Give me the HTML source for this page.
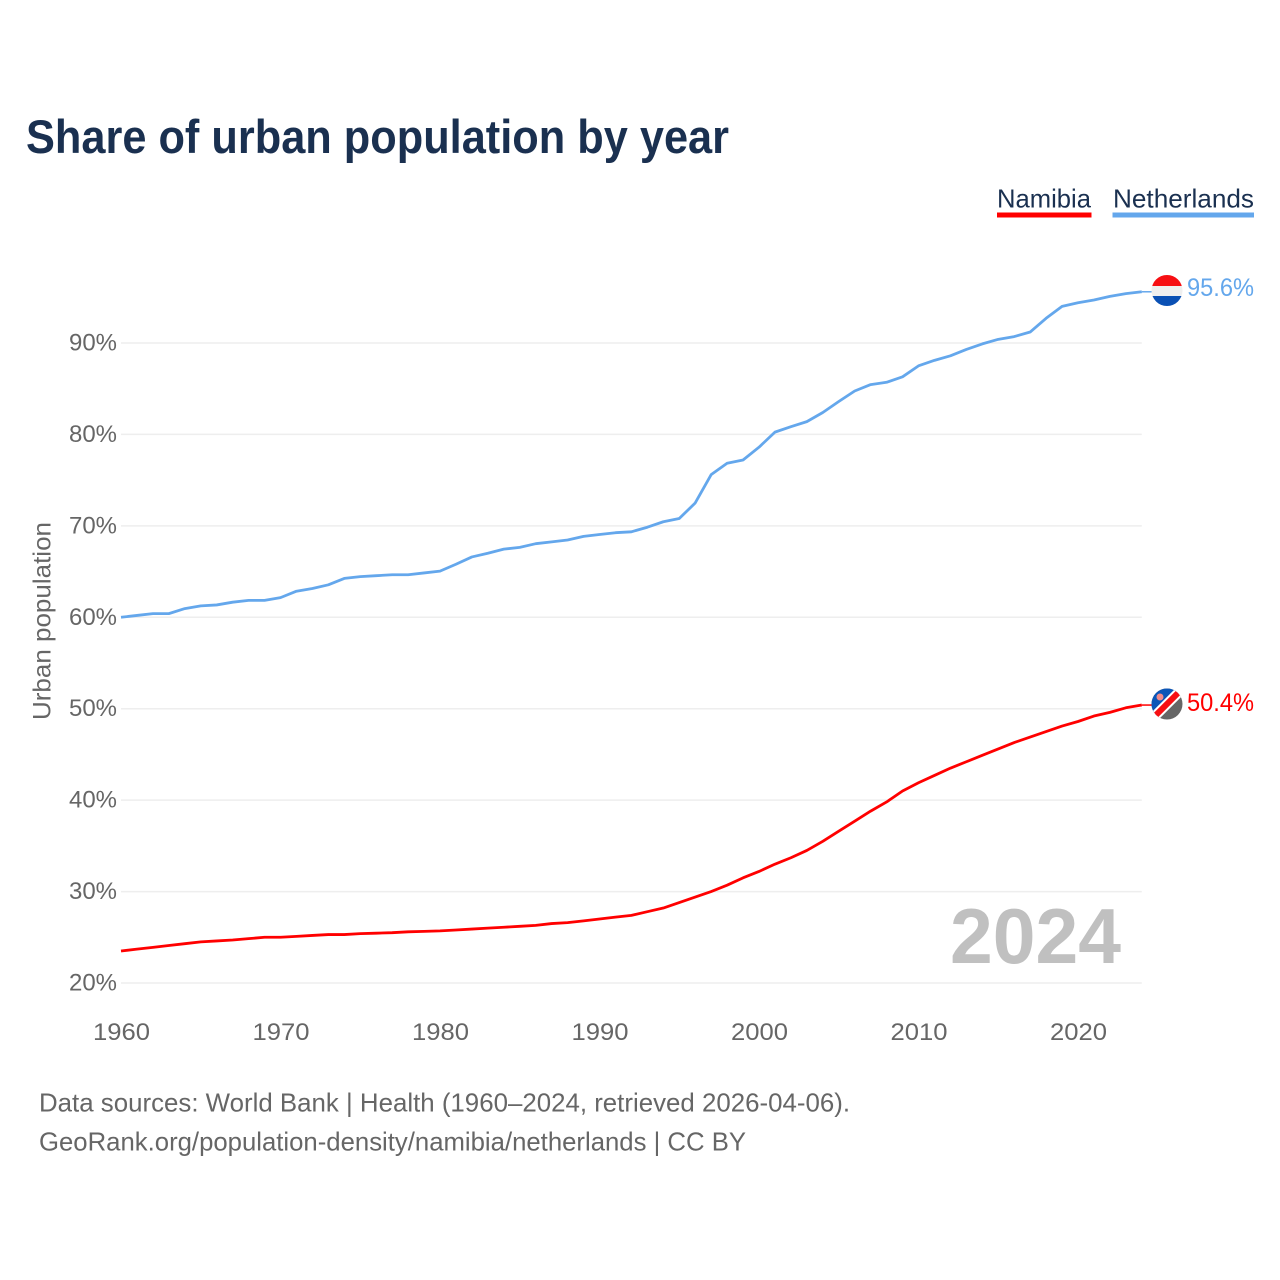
<!DOCTYPE html>
<html lang="en">
<head>
<meta charset="utf-8">
<title>Share of urban population by year</title>
<style>
html,body{margin:0;padding:0;background:#fff;}
svg{display:block;font-family:"Liberation Sans",sans-serif;}
</style>
</head>
<body>
<svg id="chart" xmlns="http://www.w3.org/2000/svg" width="1280" height="1280" viewBox="0 0 1280 1280">
  <rect width="1280" height="1280" fill="#fff"/>
  <text x="26" y="153" font-size="47" font-weight="700" fill="#1a3050" textLength="703" lengthAdjust="spacingAndGlyphs">Share of urban population by year</text>

  <g>
    <text x="997" y="207.5" font-size="26" fill="#1a3050" textLength="94" lengthAdjust="spacingAndGlyphs">Namibia</text>
    <rect x="997" y="212.5" width="94.5" height="5" fill="#ff0000"/>
  </g>
  <g>
    <text x="1113" y="207.5" font-size="26" fill="#1a3050" textLength="141" lengthAdjust="spacingAndGlyphs">Netherlands</text>
    <rect x="1112.500" y="212.5" width="141.5" height="5" fill="#64a7ec"/>
  </g>

  <g id="grid"></g>
  <g id="yticks"></g>
  <g id="xticks"></g>
  <text transform="translate(50.5,621) rotate(-90)" text-anchor="middle" font-size="25" fill="#666" textLength="198" lengthAdjust="spacingAndGlyphs">Urban population</text>

  <text x="950" y="963" font-size="78" font-weight="700" fill="#c0c0c0" textLength="171" lengthAdjust="spacingAndGlyphs">2024</text>

  <g id="series"></g>

  <defs>
    <clipPath id="flag-nl-clip"><circle cx="1167" cy="290.500" r="15.500"/></clipPath>
    <clipPath id="flag-na-clip"><circle cx="1167" cy="704" r="15.500"/></clipPath>
  </defs>
  <g clip-path="url(#flag-nl-clip)">
    <rect x="1151" y="275" width="32" height="11" fill="#f70f13"/>
    <rect x="1151" y="286" width="32" height="10" fill="#efefef"/>
    <rect x="1151" y="296" width="32" height="11" fill="#0a50b4"/>
  </g>
  <g clip-path="url(#flag-na-clip)">
    <rect x="1151" y="688" width="32" height="32" fill="#666"/>
    <polygon points="1151,688 1183,688 1151,720" fill="#0b56b8"/>
    <line x1="1150" y1="721" x2="1184" y2="687" stroke="#fff" stroke-width="10"/>
    <line x1="1150" y1="721" x2="1184" y2="687" stroke="#f70f13" stroke-width="6"/>
    <circle cx="1160" cy="697" r="3.500" fill="#f08a8a"/>
  </g>

  <text id="label-nl" x="1187" y="296" font-size="25" fill="#64a7ec" textLength="67" lengthAdjust="spacingAndGlyphs"></text>
  <text id="label-na" x="1187" y="711" font-size="25" fill="#ff0000" textLength="67" lengthAdjust="spacingAndGlyphs"></text>

  <text x="39" y="1111.500" font-size="26" fill="#666" textLength="811" lengthAdjust="spacingAndGlyphs">Data sources: World Bank | Health (1960–2024, retrieved 2026-04-06).</text>
  <text x="39" y="1150.500" font-size="26" fill="#666" textLength="707" lengthAdjust="spacingAndGlyphs">GeoRank.org/population-density/namibia/netherlands | CC BY</text>
</svg>
<script>
const startYear = 1960;
const netherlands = [60.0,60.2,60.4,60.4,60.95,61.25,61.35,61.65,61.85,61.85,
  62.15,62.85,63.15,63.55,64.25,64.45,64.55,64.65,64.65,64.85,
  65.05,65.8,66.6,67.0,67.45,67.65,68.05,68.25,68.45,68.85,
  69.05,69.25,69.35,69.85,70.45,70.8,72.5,75.6,76.85,77.2,
  78.6,80.25,80.85,81.4,82.4,83.6,84.75,85.45,85.7,86.3,
  87.5,88.1,88.6,89.3,89.9,90.4,90.7,91.2,92.7,94.0,
  94.4,94.7,95.1,95.4,95.6];
const namibia = [23.5,23.7,23.9,24.1,24.3,24.5,24.6,24.7,24.85,25.0,
  25.0,25.1,25.2,25.3,25.3,25.4,25.45,25.5,25.6,25.65,
  25.7,25.8,25.9,26.0,26.1,26.2,26.3,26.5,26.6,26.8,
  27.0,27.2,27.4,27.8,28.2,28.8,29.4,30.0,30.7,31.5,
  32.2,33.0,33.7,34.5,35.5,36.6,37.7,38.8,39.8,41.0,
  41.9,42.7,43.5,44.2,44.9,45.6,46.3,46.9,47.5,48.1,
  48.6,49.2,49.6,50.1,50.4];
const yTicks = [20,30,40,50,60,70,80,90];
const xTicks = [1960,1970,1980,1990,2000,2010,2020];

const NS = 'http://www.w3.org/2000/svg';
function xScale(year){ return 121 + (year - 1960) * 15.95; }
function yScale(v){ return 983 - (v - 20) * 9.143; }
function mk(tag, attrs, parent){
  const el = document.createElementNS(NS, tag);
  for (const k in attrs) el.setAttribute(k, attrs[k]);
  parent.appendChild(el);
  return el;
}

const grid = document.getElementById('grid');
const yG = document.getElementById('yticks');
yTicks.forEach(function(t){
  const line = mk('line', {x1:121, x2:1141.8, y1:yScale(t), y2:yScale(t), stroke:'#eeeeee', 'stroke-width':1.5}, grid);
  
  
  const label = mk('text', {x:117, y:yScale(t)+7.5, 'text-anchor':'end', 'font-size':24, fill:'#666', textLength:48, lengthAdjust:'spacingAndGlyphs'}, yG);
  
  
  label.textContent = t + '%';
});

const xG = document.getElementById('xticks');
xTicks.forEach(function(t){
  const label = mk('text', {x:xScale(t)+0.5, y:1040, 'text-anchor':'middle', 'font-size':24, fill:'#666', textLength:57, lengthAdjust:'spacingAndGlyphs'}, xG);
  
  
  label.textContent = t;
});

function drawSeries(values, color, name){
  const g = document.getElementById('series');
  const pts = values.map(function(v, i){
    return xScale(startYear + i).toFixed(2) + ',' + yScale(v).toFixed(2);
  }).join(' ');
  const line = mk('polyline', {points:pts, fill:'none', stroke:color, 'stroke-width':2.8, 'stroke-linejoin':'round'}, g);
  
  
  const lastY = yScale(values[values.length - 1]);
  const lastX = xScale(startYear + values.length - 1);
  const conn = mk('line', {x1:lastX, x2:lastX + 10, y1:lastY, y2:lastY, stroke:color, 'stroke-width':1.5}, g);
  
  
}
drawSeries(netherlands, '#64a7ec', 'netherlands');
drawSeries(namibia, '#ff0000', 'namibia');

document.getElementById('label-nl').textContent = netherlands[netherlands.length - 1].toFixed(1) + '%';
document.getElementById('label-na').textContent = namibia[namibia.length - 1].toFixed(1) + '%';
</script>
</body>
</html>
